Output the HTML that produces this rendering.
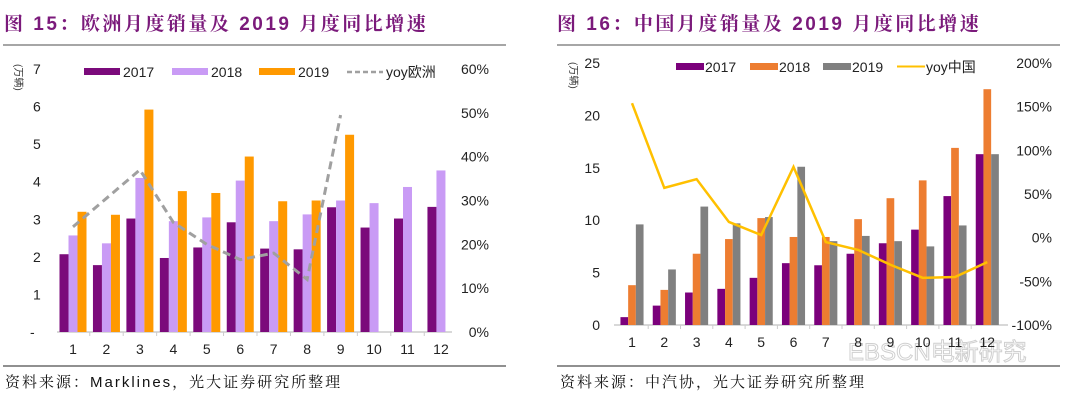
<!DOCTYPE html>
<html><head><meta charset="utf-8">
<style>
body{margin:0;background:#fff;width:1080px;height:401px;overflow:hidden;font-family:"Liberation Sans","Noto Sans CJK SC",sans-serif;}
svg{position:absolute;left:0;top:0}
</style></head>
<body>
<svg id="s" width="1080" height="401" xmlns="http://www.w3.org/2000/svg">
<text x="4" y="30" font-size="19" font-weight="bold" fill="#7B1A7B" letter-spacing="2.5" font-family="Liberation Sans,Noto Serif CJK SC,serif">图 15：欧洲月度销量及 2019 月度同比增速</text>
<text x="557" y="30" font-size="19" font-weight="bold" fill="#7B1A7B" letter-spacing="2.5" font-family="Liberation Sans,Noto Serif CJK SC,serif">图 16：中国月度销量及 2019 月度同比增速</text>
<line x1="3" y1="45" x2="506" y2="45" stroke="#888" stroke-width="1.5"/>
<line x1="557" y1="45" x2="1060" y2="45" stroke="#888" stroke-width="1.5"/>
<line x1="3" y1="366" x2="506" y2="366" stroke="#222" stroke-width="1"/>
<line x1="557" y1="366" x2="1060" y2="366" stroke="#222" stroke-width="1"/>
<text x="5" y="387" font-size="15" fill="#111" letter-spacing="2" font-family="Liberation Sans,Noto Serif CJK SC,serif">资料来源：Marklines，光大证券研究所整理</text>
<text x="560" y="387" font-size="15" fill="#111" letter-spacing="2" font-family="Liberation Sans,Noto Serif CJK SC,serif">资料来源：中汽协，光大证券研究所整理</text>
<text x="848" y="360" font-size="24" fill="none" stroke="#d0d0d0" stroke-width="1">EBSCN电新研究</text>
</svg>
<script>
const months=["1","2","3","4","5","6","7","8","9","10","11","12"];
const eu2017=[2.07,1.78,3.02,1.97,2.25,2.92,2.22,2.2,3.32,2.78,3.02,3.33];
const eu2018=[2.57,2.36,4.1,2.95,3.05,4.03,2.95,3.13,3.5,3.43,3.86,4.3];
const eu2019=[3.2,3.12,5.92,3.75,3.7,4.67,3.48,3.5,5.25];
const euYoy=[24,30.5,37,25,20,16.5,18,12,49.5];
const euLeftTicks=["-","1","2","3","4","5","6","7"];
const euRightTicks=["0%","10%","20%","30%","40%","50%","60%"];
const cn2017=[0.75,1.85,3.1,3.45,4.5,5.9,5.7,6.8,7.8,9.1,12.3,16.3];
const cn2018=[3.8,3.35,6.8,8.2,10.2,8.4,8.4,10.1,12.1,13.8,16.9,22.5];
const cn2019=[9.6,5.3,11.3,9.7,10.3,15.1,8.0,8.5,8.0,7.5,9.5,16.3];
const cnYoy=[154,57,67,18,3,81,-5,-14,-31,-46,-45,-28];
const cnLeftTicks=["0","5","10","15","20","25"];
const cnRightTicks=["-100%","-50%","0%","50%","100%","150%","200%"];

const S=document.getElementById('s');const NS="http://www.w3.org/2000/svg";
function mk(tag,a,txt){const e=document.createElementNS(NS,tag);for(const k in a)e.setAttribute(k,a[k]);if(txt!=null)e.textContent=txt;S.appendChild(e);return e;}

// Left chart
(function(){
const y0=332,y1=69,vmax=7;const yL=v=>y0-(v/vmax)*(y0-y1);const yR=p=>y0-(p/60)*(y0-y1);
const x=i=>73+i*33.45;const bw=9;
let e=mk('line',{x1:57,y1:y0,x2:452,y2:y0,stroke:'#ccc','stroke-width':1.5});

euLeftTicks.forEach((t,i)=>{let e=mk('text',{x:t==="-"?30:33,y:yL(i)+5,'font-size':14,fill:'#222','text-anchor':'start'},t);
});
euRightTicks.forEach((t,i)=>{let e=mk('text',{x:489,y:yR(i*10)+5,'font-size':14,fill:'#222','text-anchor':'end'},t);
});
e=mk('text',{x:0,y:0,'font-size':10,fill:'#333',transform:'translate(15,64) rotate(90)'},'(万辆)');

months.forEach((m,i)=>{let e=mk('text',{x:x(i),y:354,'font-size':14,fill:'#222','text-anchor':'middle'},m);

if(i>0){let t=mk('line',{x1:x(i)-16.7,y1:y0,x2:x(i)-16.7,y2:y0+4,stroke:'#ccc'});}});
[[eu2017,'#7B0A7B',-1],[eu2018,'#C99BF5',0],[eu2019,'#FF9900',1]].forEach(([arr,c,o])=>{
arr.forEach((v,i)=>{let b=mk('rect',{x:x(i)+o*bw-bw/2,y:yL(v),width:bw,height:y0-yL(v),fill:c});
});});
e=mk('polyline',{points:euYoy.map((p,i)=>x(i)+','+yR(p)).join(' '),fill:'none',stroke:'#A0A0A0','stroke-width':3,'stroke-dasharray':'8,5'});

const leg=[['rect','#7B0A7B','2017',84],['rect','#C99BF5','2018',172],['rect','#FF9900','2019',259],['dash','#A0A0A0','yoy欧洲',347]];
leg.forEach(([t,c,l,lx])=>{let s;if(t==='rect')s=mk('rect',{x:lx,y:68,width:36,height:7,fill:c});
else s=mk('line',{x1:lx,y1:72,x2:lx+36,y2:72,stroke:c,'stroke-width':2.5,'stroke-dasharray':'5,3'});

let tx=mk('text',{x:lx+39,y:77,'font-size':14,fill:'#222'},l);});
})();

// Right chart
(function(){
const y0=325,y1=63;const yL=v=>y0-(v/25)*(y0-y1);const yR=p=>y0-((p+100)/300)*(y0-y1);
const x=i=>632+i*32.3;const bw=7.7;
let e=mk('line',{x1:614,y1:y0,x2:1008,y2:y0,stroke:'#ccc','stroke-width':1.5});

cnLeftTicks.forEach((t,i)=>{let e=mk('text',{x:600,y:yL(i*5)+5,'font-size':14,fill:'#222','text-anchor':'end'},t);
});
cnRightTicks.forEach((t,i)=>{let e=mk('text',{x:1052,y:yR(-100+i*50)+5,'font-size':14,fill:'#222','text-anchor':'end'},t);
});
e=mk('text',{x:0,y:0,'font-size':10,fill:'#333',transform:'translate(570,62) rotate(90)'},'(万辆)');

months.forEach((m,i)=>{let e=mk('text',{x:x(i),y:347,'font-size':14,fill:'#222','text-anchor':'middle'},m);

if(i>0){let t=mk('line',{x1:x(i)-16.1,y1:y0,x2:x(i)-16.1,y2:y0+4,stroke:'#ccc'});}});
[[cn2017,'#7B007B',-1],[cn2018,'#ED7D31',0],[cn2019,'#808080',1]].forEach(([arr,c,o])=>{
arr.forEach((v,i)=>{let b=mk('rect',{x:x(i)+o*bw-bw/2,y:yL(v),width:bw,height:y0-yL(v),fill:c});
});});
e=mk('polyline',{points:cnYoy.map((p,i)=>x(i)+','+yR(p)).join(' '),fill:'none',stroke:'#FFC000','stroke-width':2.5});

const leg=[['rect','#7B007B','2017',676],['rect','#ED7D31','2018',750],['rect','#808080','2019',823],['line','#FFC000','yoy中国',897]];
leg.forEach(([t,c,l,lx])=>{let s;if(t==='rect')s=mk('rect',{x:lx,y:63,width:28,height:7,fill:c});
else s=mk('line',{x1:lx,y1:66.5,x2:lx+28,y2:66.5,stroke:c,'stroke-width':2});

let tx=mk('text',{x:lx+29,y:72,'font-size':14,fill:'#222'},l);});
})();
</script>
</body></html>
